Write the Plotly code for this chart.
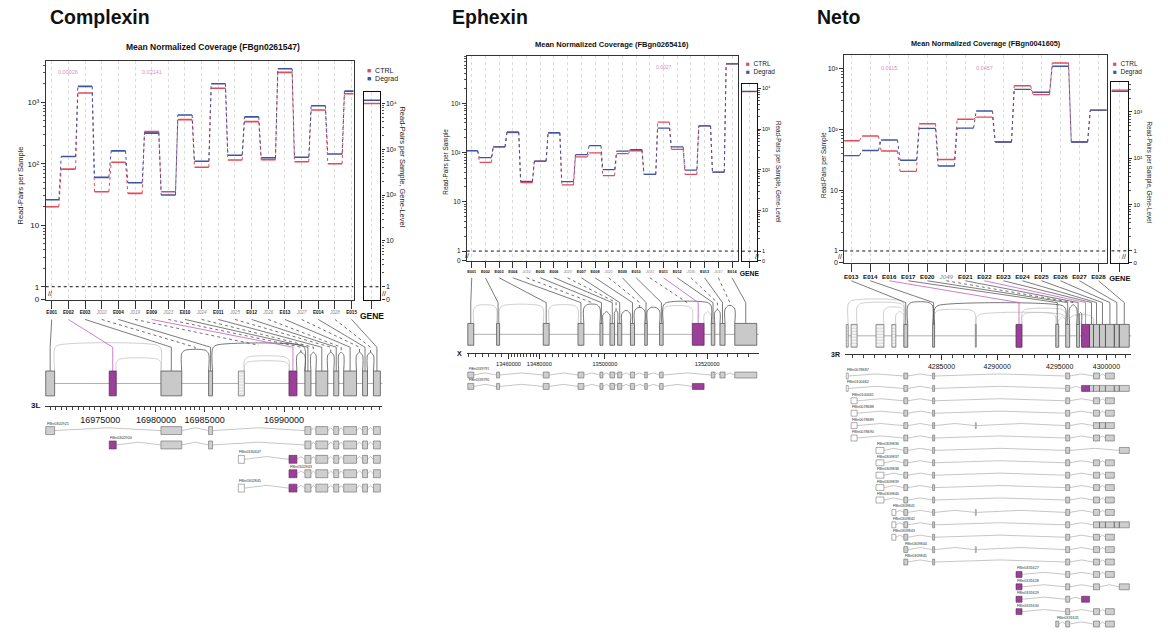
import numpy as np
import plotly.graph_objects as go

W, H = 1168, 633

# ======================= DATA =======================
# ---------- Complexin ----------
CPX_NAME = "Complexin"
CPX_GENE_ID = "FBgn0261547"
CPX_CATS = ["E001", "E002", "E003", "J010", "E004", "J019", "E009", "J023", "E010", "J024",
            "E011", "J025", "E012", "J026", "E013", "J027", "E014", "J028", "E015"]
CPX_CTRL = [20, 82, 1420, 35, 106, 33, 334, 35, 523, 88, 1690, 115, 486, 117, 3070, 108, 750, 100, 1380]
CPX_DEGRAD = [26, 131, 1820, 60, 162, 49, 315, 31, 622, 110, 2000, 138, 580, 125, 3520, 128, 880, 144, 1520]
CPX_GENE_CTRL = 9900
CPX_GENE_DEGRAD = 11600
CPX_PV_CATS = ["E002", "E009"]
CPX_PV_TEXT = ["0.00026", "0.02141"]
CPX_CHROM = "3L"
CPX_SCALE_BP = [16970000, 16975000, 16980000, 16985000, 16990000, 16997000]
CPX_SCALE_U = [0, 56, 112, 161, 241, 353]          # compressed (intron-squeezed) scale
CPX_AXIS_TICKS = [16975000, 16980000, 16985000, 16990000]
CPX_MINOR_STEP = 500
CPX_EX_START = [16970090, 16975800, 16980510, 16985250, 16987125, 16990310,
                16991310, 16992000, 16993125, 16993750, 16994940, 16995625]
CPX_EX_END = [16970890, 16976430, 16982650, 16985500, 16987500, 16990810,
              16991690, 16992750, 16993440, 16994560, 16995250, 16996060]
CPX_EX_KIND = ["t", "s", "t", "t", "u", "s", "t", "t", "t", "t", "t", "t"]
CPX_ARC_FROM = [0, 1, 2, 3, 4, 4, 5, 6, 7, 8, 9, 10]
CPX_ARC_TO = [2, 2, 3, 6, 5, 5, 6, 7, 8, 9, 10, 11]
CPX_ARC_TESTED = [0, 0, 1, 1, 0, 0, 1, 1, 1, 1, 1, 1]
CPX_TARGET = ["e0", "e1", "e2", "j2", "e3", "j3", "e5", "j6", "e6", "j7",
              "e7", "j8", "e8", "j9", "e9", "j10", "e10", "j11", "e11"]
CPX_TX_NAMES = ["FBtr0302921", "FBtr0302920", "FBtr0330447", "FBtr0302843", "FBtr0302845"]
CPX_TX_EXONS = [[0, 2, 3, 6, 7, 8, 9, 10, 11],
                [1, 2, 3, 6, 7, 8, 9, 10, 11],
                [4, 5, 6, 7, 8, 9, 10, 11],
                [5, 6, 7, 8, 9, 10, 11],
                [4, 5, 6, 7, 8, 9, 10, 11]]

# ---------- Ephexin ----------
EPH_NAME = "Ephexin"
EPH_GENE_ID = "FBgn0265416"
EPH_CATS = ["E001", "E002", "E003", "E004", "J010", "E005", "E006", "J020", "E007", "E008",
            "J021", "E009", "E010", "J031", "E011", "E012", "J035", "E013", "J037", "E014"]
EPH_CTRL = [108, 63, 130, 255, 24.6, 67, 253, 22, 82, 99, 34, 95, 109, 36, 415, 116, 36, 347, 40, 6300]
EPH_DEGRAD = [110, 79, 130, 262, 26, 67, 253, 25.6, 91, 139, 45, 107, 115, 36, 315, 130, 44, 347, 40, 6300]
EPH_GENE_CTRL = 8300
EPH_GENE_DEGRAD = 8450
EPH_PV_CATS = ["E011"]
EPH_PV_TEXT = ["0.0027"]
EPH_CHROM = "X"
EPH_SCALE_BP = [13445000, 13460000, 13480000, 13500000, 13520000, 13530000]
EPH_SCALE_U = [0, 50, 81, 147, 250, 301.5]
EPH_AXIS_TICKS = [13460000, 13480000, 13500000, 13520000]
EPH_MINOR_STEP = 2000
EPH_EX_START = [13447700, 13456400, 13481200, 13491800, 13498500, 13501000, 13502500,
                13505000, 13507800, 13510700, 13517100, 13520800, 13522500, 13525400]
EPH_EX_END = [13449500, 13457300, 13483000, 13493600, 13499400, 13501900, 13503300,
              13505800, 13508300, 13511400, 13519400, 13521500, 13523500, 13529700]
EPH_EX_KIND = ["t", "t", "t", "t", "t", "t", "t", "t", "t", "t", "s", "t", "t", "t"]
EPH_ARC_FROM = [0, 1, 2, 3, 4, 5, 6, 7, 8, 9, 9, 10, 11, 12]
EPH_ARC_TO = [1, 2, 3, 4, 5, 6, 7, 8, 9, 11, 10, 11, 12, 13]
EPH_ARC_TESTED = [0, 0, 0, 1, 1, 1, 1, 1, 1, 1, 0, 0, 1, 1]
EPH_TARGET = ["e0", "e1", "e2", "e3", "j3", "e4", "e5", "j5", "e6", "e7",
              "j7", "e8", "e9", "j9", "e10", "e11", "j12", "e12", "j13", "e13"]
EPH_TX_NAMES = ["FBtr0339791", "FBtr0339790"]
EPH_TX_EXONS = [[0, 1, 2, 3, 4, 5, 6, 7, 8, 9, 11, 12, 13],
                [0, 1, 2, 3, 4, 5, 6, 7, 8, 9, 10]]

# ---------- Neto ----------
NETO_NAME = "Neto"
NETO_GENE_ID = "FBgn0041605"
NETO_CATS = ["E013", "E014", "E016", "E017", "E020", "J049", "E021", "E022", "E023", "E024",
             "E025", "E026", "E027", "E028"]
NETO_CTRL = [65, 78, 44, 20.4, 124, 32, 147, 159, 62, 521, 372, 1237, 62, 207]
NETO_DEGRAD = [37, 45, 67, 31, 104, 25, 105, 200, 62, 455, 407, 1090, 62, 207]
NETO_GENE_CTRL = 2960
NETO_GENE_DEGRAD = 2790
NETO_PV_CATS = ["E016", "E022"]
NETO_PV_TEXT = ["0.0115", "0.0457"]
NETO_CHROM = "3R"
NETO_SCALE_BP = [4275000, 4285000, 4290000, 4295000, 4303000]
NETO_SCALE_U = [0, 112, 168, 231, 306.2]
NETO_AXIS_TICKS = [4285000, 4290000, 4295000, 4300000]
NETO_MINOR_STEP = 1000
NETO_EX_START = [4276430, 4276870, 4279110, 4280535, 4281610, 4284200, 4288040, 4291510, 4294685,
                 4295640, 4296810, 4297340, 4298190, 4298620, 4299260, 4299900, 4300850, 4301385]
NETO_EX_END = [4276610, 4277410, 4279820, 4280890, 4281960, 4284375, 4288125, 4291985, 4294920,
               4296065, 4297130, 4298190, 4298620, 4299260, 4299900, 4300850, 4301385, 4302450]
NETO_EX_KIND = ["u", "u", "u", "u", "t", "t", "u", "s", "t", "t", "t", "s", "t", "t", "t", "t", "t", "t"]
NETO_ARC_FROM = [0, 1, 2, 3, 4, 5, 5, 6, 7, 7, 8, 9, 10, 9]
NETO_ARC_TO = [4, 4, 4, 4, 5, 9, 6, 9, 9, 8, 9, 10, 11, 13]
NETO_ARC_TESTED = [0, 0, 0, 0, 1, 1, 0, 0, 0, 0, 0, 1, 1, 0]
NETO_TARGET = ["e4", "e5", "e7", "e8", "e9", "j11", "e10", "e11", "e12", "e13",
               "e14", "e15", "e16", "e17"]
NETO_TX_NAMES = ["FBtr0078687", "FBtr0100462", "FBtr0100461", "FBtr0078688", "FBtr0078689",
                 "FBtr0078690", "FBtr0309836", "FBtr0309837", "FBtr0309838", "FBtr0309839",
                 "FBtr0309840", "FBtr0309841", "FBtr0309842", "FBtr0309843", "FBtr0309844",
                 "FBtr0309845", "FBtr0331627", "FBtr0331628", "FBtr0331629", "FBtr0331630",
                 "FBtr0331631"]
NETO_TX_EXONS = [[0, 4, 5, 9, 13, 15],
                 [0, 4, 5, 9, 11, 12, 13, 14, 15, 16, 17],
                 [1, 4, 5, 9, 13, 15],
                 [1, 4, 5, 9, 13, 15],
                 [1, 4, 5, 6, 9, 13, 14, 15],
                 [1, 4, 5, 9, 13, 15],
                 [2, 4, 5, 9, 17],
                 [2, 4, 5, 9, 13, 15],
                 [2, 4, 5, 9, 13, 15],
                 [2, 4, 5, 9, 13, 15],
                 [2, 4, 5, 9, 13, 15],
                 [3, 4, 5, 6, 9, 13, 15],
                 [3, 4, 5, 9, 13, 14, 15, 16, 17],
                 [3, 4, 5, 9, 13, 15],
                 [4, 5, 6, 9, 13, 15],
                 [4, 5, 9, 13, 15],
                 [7, 9, 13, 15],
                 [7, 9, 13, 17],
                 [7, 9, 11],
                 [7, 9, 13, 15],
                 [8, 9, 13, 15]]

# ======================= STYLE / LAYOUT (pixels) =======================
RED = "#e24b57"
BLUE = "#3d55a5"
PINK = "#d88cc6"
PURPLE = "#9b3f98"
GREYFILL = "#c9c9c9"
FONT = "Liberation Sans, Arial, DejaVu Sans, sans-serif"
SUPERSCRIPT = {2: "\u00b2", 3: "\u00b3", 4: "\u2074", 5: "\u2075"}

PANELS = [
    dict(name=CPX_NAME, gid=CPX_GENE_ID, cats=CPX_CATS, ctrl=CPX_CTRL, deg=CPX_DEGRAD,
         gctrl=CPX_GENE_CTRL, gdeg=CPX_GENE_DEGRAD, pv_cats=CPX_PV_CATS, pv_text=CPX_PV_TEXT,
         chrom=CPX_CHROM, sbp=CPX_SCALE_BP, su=CPX_SCALE_U, aticks=CPX_AXIS_TICKS, mstep=CPX_MINOR_STEP,
         xs=CPX_EX_START, xe=CPX_EX_END, kind=CPX_EX_KIND, af=CPX_ARC_FROM, at=CPX_ARC_TO,
         atest=CPX_ARC_TESTED, target=CPX_TARGET, txn=CPX_TX_NAMES, txe=CPX_TX_EXONS),
    dict(name=EPH_NAME, gid=EPH_GENE_ID, cats=EPH_CATS, ctrl=EPH_CTRL, deg=EPH_DEGRAD,
         gctrl=EPH_GENE_CTRL, gdeg=EPH_GENE_DEGRAD, pv_cats=EPH_PV_CATS, pv_text=EPH_PV_TEXT,
         chrom=EPH_CHROM, sbp=EPH_SCALE_BP, su=EPH_SCALE_U, aticks=EPH_AXIS_TICKS, mstep=EPH_MINOR_STEP,
         xs=EPH_EX_START, xe=EPH_EX_END, kind=EPH_EX_KIND, af=EPH_ARC_FROM, at=EPH_ARC_TO,
         atest=EPH_ARC_TESTED, target=EPH_TARGET, txn=EPH_TX_NAMES, txe=EPH_TX_EXONS),
    dict(name=NETO_NAME, gid=NETO_GENE_ID, cats=NETO_CATS, ctrl=NETO_CTRL, deg=NETO_DEGRAD,
         gctrl=NETO_GENE_CTRL, gdeg=NETO_GENE_DEGRAD, pv_cats=NETO_PV_CATS, pv_text=NETO_PV_TEXT,
         chrom=NETO_CHROM, sbp=NETO_SCALE_BP, su=NETO_SCALE_U, aticks=NETO_AXIS_TICKS, mstep=NETO_MINOR_STEP,
         xs=NETO_EX_START, xe=NETO_EX_END, kind=NETO_EX_KIND, af=NETO_ARC_FROM, at=NETO_ARC_TO,
         atest=NETO_ARC_TESTED, target=NETO_TARGET, txn=NETO_TX_NAMES, txe=NETO_TX_EXONS),
]

LAYOUTS = [
    dict(title_x=44, title_y=17, sub_x=210, sub_y=47, sub_size=8.5,
         cov=(42, 352, 61, 302), cov_xr=(-0.36, 18.12), cov_yr=(-0.21, 3.68),
         gene=(362, 379, 93, 302), gene_yr=(-0.28, 4.24),
         yt_x=17, yt_y=187, yt_size=7.5, rt_x=401, rt_y=168, rt_size=7.5,
         ytick=8, xtick=4.6, gtick=8.5, xticklen=8, leg_x=363, leg_y=(71, 80), leg_size=7,
         pv_y=68, pv_size=5.5, seg_lw=1.6,
         m_x0=41, line_y0=322, bend=350, tr_top=374, tr_bot=399, axis_y=409, axlab=9,
         rows_y0=434, row_dy=14.5, row_h=8, rowlab=3.8, m_bottom=505, chrom_size=8,
         arc_h=[26, 12, 21, 26, 14, 9, 19, 19, 19, 19, 19, 19]),
    dict(title_x=449, title_y=17, sub_x=612, sub_y=45, sub_size=7.5,
         cov=(466, 739, 56, 263), cov_xr=(-0.36, 19.43), cov_yr=(-0.2, 3.97),
         gene=(743, 758, 85, 263), gene_yr=(-0.24, 4.1),
         yt_x=445, yt_y=163, yt_size=6.3, rt_x=780, rt_y=173, rt_size=6.3,
         ytick=6.5, xtick=3.9, gtick=6.8, xticklen=6, leg_x=745, leg_y=(64, 73), leg_size=6.5,
         pv_y=62, pv_size=5, seg_lw=1.3,
         m_x0=458, line_y0=280, bend=305, tr_top=326, tr_bot=348, axis_y=356, axlab=5.6,
         rows_y0=378, row_dy=11.5, row_h=6, rowlab=3.5, m_bottom=400, chrom_size=7,
         arc_h=[18, 18, 18, 19, 12, 13, 13, 16, 16, 21, 17, 12, 14, 18]),
    dict(title_x=817, title_y=17, sub_x=989, sub_y=44, sub_size=7.3,
         cov=(846, 1111, 55, 265), cov_xr=(-0.37, 13.47), cov_yr=(-0.196, 3.23),
         gene=(1115, 1132, 83, 265), gene_yr=(-0.26, 3.64),
         yt_x=825, yt_y=166, yt_size=6.3, rt_x=1153, rt_y=174, rt_size=6.3,
         ytick=7, xtick=6.2, gtick=7.5, xticklen=8, leg_x=1115, leg_y=(64, 73), leg_size=6.5,
         pv_y=64, pv_size=5.5, seg_lw=1.4,
         m_x0=832, line_y0=283, bend=305, tr_top=327, tr_bot=350, axis_y=357, axlab=7,
         rows_y0=379, row_dy=12.5, row_h=6, rowlab=3.8, m_bottom=633, chrom_size=7,
         arc_h=[24, 21, 17, 13, 22, 19, 14, 10, 15, 11, 8, 20, 12, 9]),
]


def px_x(px):
    return px / W


def px_y(py):
    return 1 - py / H


def axkey(i, a):
    return f"{a}axis" if i == 1 else f"{a}axis{i}"


def axref(i, a):
    return a if i == 1 else f"{a}{i}"


def log_ticks(lo, hi):
    vals, text = [10 ** (lo + 0.002)], ["0"]
    top = int(np.floor(hi))
    for d in range(0, top + 1):
        vals.append(10 ** d)
        text.append("1" if d == 0 else ("10" if d == 1 else "10" + SUPERSCRIPT[d]))
    minor = [m * 10 ** d for d in range(0, top + 1) for m in range(2, 10) if np.log10(m * 10 ** d) < hi]
    return vals, text, minor


fig = go.Figure()
annotations = []
axes = {}


def add(trace, xi, yi):
    trace.update(xaxis=axref(xi, "x"), yaxis=axref(yi, "y"), showlegend=False, hoverinfo="skip")
    fig.add_trace(trace)


for k, (P, L) in enumerate(zip(PANELS, LAYOUTS)):
    ci, gi, mi = 3 * k + 1, 3 * k + 2, 3 * k + 3
    n = len(P["cats"])
    cx0, cx1, cy0, cy1 = L["cov"]
    r0, r1 = L["cov_xr"]
    lo, hi = L["cov_yr"]

    # ---------------- coverage axes ----------------
    ttext = [f'<i><span style="color:#888">{c}</span></i>' if c.startswith("J") else f"<b>{c}</b>"
             for c in P["cats"]]
    axes[axkey(ci, "x")] = dict(
        domain=[px_x(cx0), px_x(cx1)], range=[r0, r1], anchor=axref(ci, "y"),
        tickmode="array", tickvals=list(range(n)), ticktext=ttext, tickangle=0,
        tickfont=dict(size=L["xtick"], color="#111"), ticks="outside", ticklen=L["xticklen"], tickcolor="#333",
        showline=True, mirror=True, linecolor="#333", linewidth=1,
        showgrid=True, gridcolor="#dadada", griddash="dot", gridwidth=1, zeroline=False)
    tv, tt, mv = log_ticks(lo, hi)
    axes[axkey(ci, "y")] = dict(
        domain=[px_y(cy1), px_y(cy0)], type="log", range=[lo, hi], anchor=axref(ci, "x"),
        tickmode="array", tickvals=tv, ticktext=tt, tickfont=dict(size=L["ytick"], color="#111"),
        ticks="outside", ticklen=4, tickcolor="#333", showline=True, mirror=True,
        linecolor="#333", linewidth=1, showgrid=False, zeroline=False,
        minor=dict(tickmode="array", tickvals=mv, ticks="outside", ticklen=2, tickcolor="#555"))

    HW = 0.43
    for vals, col in [(P["ctrl"], RED), (P["deg"], BLUE)]:
        sx, sy, jx, jy = [], [], [], []
        for i, v in enumerate(vals):
            sx += [i - HW, i + HW, None]
            sy += [v, v, None]
            if i < n - 1:
                jx += [i + HW, i + 1 - HW, None]
                jy += [v, vals[i + 1], None]
        add(go.Scatter(x=jx, y=jy, mode="lines", line=dict(color=col, width=1, dash="dot")), ci, ci)
        add(go.Scatter(x=sx, y=sy, mode="lines", line=dict(color=col, width=L["seg_lw"])), ci, ci)
    add(go.Scatter(x=[r0, r1], y=[1, 1], mode="lines", line=dict(color="#111", width=1, dash="dot")), ci, ci)

    # p-values
    for c, t in zip(P["pv_cats"], P["pv_text"]):
        annotations.append(dict(x=P["cats"].index(c), xref=axref(ci, "x"), y=px_y(L["pv_y"]), yref="paper",
                                text=t, showarrow=False, font=dict(size=L["pv_size"], color=PINK, family=FONT)))

    # ---------------- gene-level panel ----------------
    gx0, gx1, gy0, gy1 = L["gene"]
    glo, ghi = L["gene_yr"]
    axes[axkey(gi, "x")] = dict(
        domain=[px_x(gx0), px_x(gx1)], range=[-0.5, 0.5], anchor=axref(gi, "y"),
        tickmode="array", tickvals=[0], ticktext=["<b>GENE</b>"], tickangle=0,
        tickfont=dict(size=L["gtick"], color="#111"), ticks="outside", ticklen=L["xticklen"], tickcolor="#333",
        showline=True, mirror=True, linecolor="#111", linewidth=1.2,
        showgrid=True, gridcolor="#dadada", griddash="dot", zeroline=False)
    tv, tt, mv = log_ticks(glo, ghi)
    axes[axkey(gi, "y")] = dict(
        domain=[px_y(gy1), px_y(gy0)], type="log", range=[glo, ghi], anchor=axref(gi, "x"), side="right",
        tickmode="array", tickvals=tv, ticktext=tt, tickfont=dict(size=L["ytick"] - 1, color="#111"),
        ticks="outside", ticklen=3, tickcolor="#333", showline=True, mirror=True,
        linecolor="#111", linewidth=1.2, showgrid=False, zeroline=False,
        minor=dict(tickmode="array", tickvals=mv, ticks="outside", ticklen=2, tickcolor="#555"))
    for v, col in [(P["gctrl"], RED), (P["gdeg"], BLUE)]:
        add(go.Scatter(x=[-0.5, 0.5], y=[v, v], mode="lines", line=dict(color=col, width=L["seg_lw"])), gi, gi)
    add(go.Scatter(x=[-0.5, 0.5], y=[1, 1], mode="lines", line=dict(color="#111", width=1, dash="dot")), gi, gi)

    # ---------------- gene model ----------------
    def U(bp, P=P):
        return np.interp(np.asarray(bp, dtype=float), P["sbp"], P["su"])

    us, ue = U(P["xs"]), U(P["xe"])
    mr0, mr1 = us.min() - 1, ue.max() + 2
    md0, md1 = px_x(L["m_x0"] + mr0), px_x(L["m_x0"] + mr1)
    mtop, mbot = L["line_y0"] - 2, L["m_bottom"]
    minor_bp = np.arange(np.ceil(P["sbp"][0] / P["mstep"]) * P["mstep"], P["sbp"][-1], P["mstep"])
    minor_u = [u for u in U(minor_bp) if mr0 <= u <= mr1]
    mx, my = axref(mi, "x"), axref(mi, "y")
    axes[axkey(mi, "x")] = dict(
        domain=[md0, md1], range=[mr0, mr1], anchor="free", position=px_y(L["axis_y"]),
        tickmode="array", tickvals=list(U(P["aticks"])), ticktext=[str(t) for t in P["aticks"]],
        tickangle=0, tickfont=dict(size=L["axlab"], color="#111"), ticks="outside", ticklen=5,
        tickcolor="#333", showline=True, linecolor="#333", linewidth=1, showgrid=False, zeroline=False,
        minor=dict(tickmode="array", tickvals=minor_u, ticks="outside", ticklen=3, tickcolor="#444"))
    axes[axkey(mi, "y")] = dict(domain=[px_y(mbot), px_y(mtop)], range=[mbot, mtop], visible=False,
                                anchor=mx)

    tt_, tb_ = L["tr_top"], L["tr_bot"]
    tc = (tt_ + tb_) / 2
    # intron backbone + strand arrow
    add(go.Scatter(x=[us.min(), ue.max() + 5], y=[tc, tc], mode="lines",
                   line=dict(color="#9a9a9a", width=0.8)), mi, mi)
    annotations.append(dict(x=ue.max() + 8, y=tc, xref=mx, yref=my, text=">", showarrow=False,
                            font=dict(size=10, color="#777", family=FONT)))

    # arcs (junctions)
    arc_pk, arc_mid = [], []
    arcs_by = {0: ([], []), 1: ([], [])}
    for j, (a, b, tst) in enumerate(zip(P["af"], P["at"], P["atest"])):
        xa, xb = ue[a], us[b]
        pk = tt_ - L["arc_h"][j]
        r = max(min(3.5, (xb - xa) / 2), 0.3)
        ax_, ay_ = arcs_by[tst]
        ax_ += [xa, xa, xa + r, xb - r, xb, xb, None]
        ay_ += [tt_, pk + r, pk, pk, pk + r, tt_, None]
        arc_pk.append(pk)
        arc_mid.append((xa + xb) / 2)
    for tst, col in [(0, "#c4c4c4"), (1, "#555555")]:
        add(go.Scatter(x=arcs_by[tst][0], y=arcs_by[tst][1], mode="lines",
                       line=dict(color=col, width=0.8, shape="spline", smoothing=0.8)), mi, mi)

    # connectors from coverage ticks to features
    groups = {"e": ([], []), "j": ([], []), "s": ([], [])}
    for i, t in enumerate(P["target"]):
        xp = px_x(cx0) + (i - r0) / (r1 - r0) * (px_x(cx1) - px_x(cx0))
        u_tick = mr0 + (xp - md0) / (md1 - md0) * (mr1 - mr0)
        idx = int(t[1:])
        if t[0] == "e":
            ut, yend = (us[idx] + ue[idx]) / 2, tt_
            g = "s" if P["kind"][idx] == "s" else "e"
        else:
            ut, yend = arc_mid[idx], arc_pk[idx]
            g = "j"
        gx, gy = groups[g]
        if yend > L["bend"]:
            gx += [u_tick, ut, ut, None]
            gy += [L["line_y0"], L["bend"], yend, None]
        else:
            gx += [u_tick, ut, None]
            gy += [L["line_y0"], yend, None]
    add(go.Scatter(x=groups["e"][0], y=groups["e"][1], mode="lines", line=dict(color="#444", width=0.7)), mi, mi)
    add(go.Scatter(x=groups["j"][0], y=groups["j"][1], mode="lines",
                   line=dict(color="#333", width=0.7, dash="dot")), mi, mi)
    add(go.Scatter(x=groups["s"][0], y=groups["s"][1], mode="lines", line=dict(color="#c75cc0", width=0.8)), mi, mi)

    # track exons
    def polys(idxs, yt, yb):
        px_, py_ = [], []
        for e in idxs:
            px_ += [us[e], ue[e], ue[e], us[e], us[e], None]
            py_ += [yt, yt, yb, yb, yt, None]
        return px_, py_

    kinds = P["kind"]
    for kd, fillc, linec in [("t", GREYFILL, "#555"), ("s", PURPLE, "#5b2a58")]:
        ids = [e for e in range(len(kinds)) if kinds[e] == kd]
        if ids:
            xx, yy = polys(ids, tt_, tb_)
            add(go.Scatter(x=xx, y=yy, mode="lines", fill="toself", fillcolor=fillc,
                           line=dict(color=linec, width=0.8)), mi, mi)
    ids = [e for e in range(len(kinds)) if kinds[e] == "u"]
    if ids:
        xx, yy = polys(ids, tt_, tb_)
        add(go.Scatter(x=xx, y=yy, mode="lines", fill="toself", fillcolor="white",
                       fillpattern=dict(shape="-", fgcolor="#b5b5b5", bgcolor="#f4f4f4", size=3, solidity=0.3),
                       line=dict(color="#777", width=0.8)), mi, mi)

    # transcripts
    hh = L["row_h"] / 2
    rowpolys = {"t": ([], []), "s": ([], []), "u": ([], [])}
    chx, chy = [], []
    for r, exl in enumerate(P["txe"]):
        yc = L["rows_y0"] + r * L["row_dy"]
        for e in exl:
            xx, yy = polys([e], yc - hh, yc + hh)
            rowpolys[kinds[e]][0].extend(xx)
            rowpolys[kinds[e]][1].extend(yy)
        for a, b in zip(exl[:-1], exl[1:]):
            if us[b] - ue[a] > 0.5:
                chx += [ue[a], (ue[a] + us[b]) / 2, us[b], None]
                chy += [yc, yc - hh * 0.7, yc, None]
        annotations.append(dict(x=us[exl[0]], y=yc - hh, xref=mx, yref=my, xanchor="left", yanchor="bottom",
                                text=P["txn"][r], showarrow=False, borderpad=0,
                                font=dict(size=L["rowlab"], color="#333", family=FONT)))
    add(go.Scatter(x=chx, y=chy, mode="lines", line=dict(color="#a0a0a0", width=0.6)), mi, mi)
    for kd, fillc, linec in [("t", "#cfcfcf", "#666"), ("s", PURPLE, "#5b2a58"), ("u", "white", "#777")]:
        if rowpolys[kd][0]:
            add(go.Scatter(x=rowpolys[kd][0], y=rowpolys[kd][1], mode="lines", fill="toself",
                           fillcolor=fillc, line=dict(color=linec, width=0.6)), mi, mi)

    # ---------------- texts ----------------
    annotations += [
        dict(x=px_x(L["title_x"]), y=px_y(L["title_y"]), xref="paper", yref="paper", xanchor="left",
             yanchor="middle", text=f"<b>{P['name']}</b>", showarrow=False,
             font=dict(size=19.5, color="#111", family=FONT)),
        dict(x=px_x(L["sub_x"]), y=px_y(L["sub_y"]), xref="paper", yref="paper", xanchor="center",
             yanchor="middle", text=f"<b>Mean Normalized Coverage ({P['gid']})</b>", showarrow=False,
             font=dict(size=L["sub_size"], color="#111", family=FONT)),
        dict(x=px_x(L["yt_x"]), y=px_y(L["yt_y"]), xref="paper", yref="paper", xanchor="center",
             yanchor="middle", text="Read-Pairs per Sample", textangle=-90, showarrow=False,
             font=dict(size=L["yt_size"], color="#222", family=FONT)),
        dict(x=px_x(L["rt_x"]), y=px_y(L["rt_y"]), xref="paper", yref="paper", xanchor="center",
             yanchor="middle", text="Read-Pairs per Sample, Gene-Level", textangle=90, showarrow=False,
             font=dict(size=L["rt_size"], color="#222", family=FONT)),
        dict(x=px_x(L["m_x0"] + mr0 - 3), y=px_y(L["axis_y"]), xref="paper", yref="paper",
             xanchor="right", yanchor="middle", text=f"<b>{P['chrom']}</b>", showarrow=False,
             font=dict(size=L["chrom_size"], color="#111", family=FONT)),
    ]
    for lab, col, yy in [("CTRL", RED, L["leg_y"][0]), ("Degrad", BLUE, L["leg_y"][1])]:
        annotations.append(dict(x=px_x(L["leg_x"]), y=px_y(yy), xref="paper", yref="paper", xanchor="left",
                                yanchor="middle", showarrow=False,
                                text=f'<span style="color:{col}">■</span>  {lab}',
                                font=dict(size=L["leg_size"], color="#222", family=FONT)))
    # axis-break marks
    y1px = cy1 - (0 - lo) / (hi - lo) * (cy1 - cy0)
    annotations.append(dict(x=px_x(cx0), y=px_y((y1px + cy1) / 2), xref="paper", yref="paper",
                            text="//", showarrow=False, font=dict(size=7, color="#111", family=FONT)))
    gy1px = gy1 - (0 - glo) / (ghi - glo) * (gy1 - gy0)
    annotations.append(dict(x=px_x(gx1), y=px_y((gy1px + gy1) / 2), xref="paper", yref="paper",
                            text="//", showarrow=False, font=dict(size=7, color="#111", family=FONT)))

fig.update_layout(
    width=W, height=H, margin=dict(l=0, r=0, t=0, b=0),
    paper_bgcolor="white", plot_bgcolor="white",
    font=dict(family=FONT, color="#111"),
    showlegend=False, annotations=annotations, **axes)

fig.write_html("out.html", config={"displayModeBar": False},
               post_script="document.body.style.margin='0px';document.body.style.padding='0px';"
                           "document.body.style.overflow='hidden';")
